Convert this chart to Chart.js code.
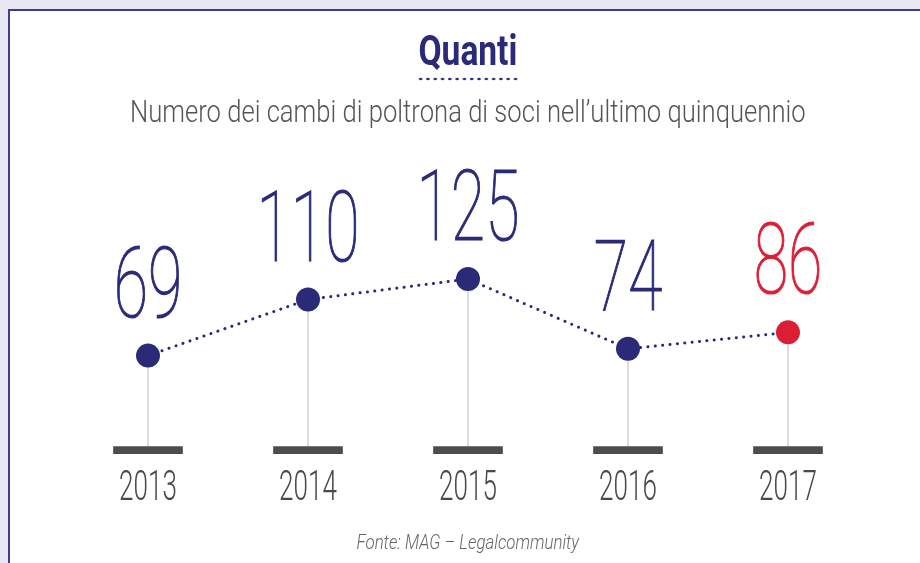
<!DOCTYPE html>
<html>
<head>
<meta charset="utf-8">
<script src="https://cdn.jsdelivr.net/npm/chart.js@4.4.0/dist/chart.umd.min.js"></script>
<style>
  html, body { margin: 0; padding: 0; }
  body { width: 920px; height: 563px; background: #e8e6f3; position: relative; overflow: hidden; font-family: Roboto, sans-serif; }
  #panel { position: absolute; left: 8px; top: 9px; width: 920px; height: 600px; background: #fff; border-left: 2px solid #3f3e8a; border-top: 2px solid #3f3e8a; box-sizing: border-box; }
  canvas { position: absolute; left: 0; top: 0; }
  .line { position: absolute; left: 0; width: 936px; text-align: center; white-space: nowrap; }
  .line span { display: inline-block; transform-origin: center; }
  #title { top: 29.5px; font-size: 42px; line-height: 42px; font-weight: 700; color: #2b2a78; }
  #dots { position: absolute; left: 417px; top: 77px; width: 102px; height: 4px;
    background-image: radial-gradient(circle, #2b2a78 1.4px, transparent 1.6px);
    background-size: 7.3px 4px; }
  #subtitle { top: 96px; font-size: 31px; line-height: 31px; font-weight: 300; color: #555; }
  #source { top: 532px; font-size: 21px; line-height: 21px; font-weight: 300; font-style: italic; color: #666; }
</style>
</head>
<body>
<div id="panel"></div>
<canvas id="chart" width="920" height="563"></canvas>
<div class="line" id="title"><span data-w="99">Quanti</span></div>
<div id="dots"></div>
<div class="line" id="subtitle"><span data-w="676">Numero dei cambi di poltrona di soci nell’ultimo quinquennio</span></div>
<div class="line" id="source"><span data-w="223">Fonte: MAG – Legalcommunity</span></div>
<script>
// data
const years = ['2013', '2014', '2015', '2016', '2017'];
const moves = [69, 110, 125, 74, 86];
const highlightYear = '2017';

const navy = '#2b2a78';
const red = '#dc1e35';
const pointColors = years.map(y => y === highlightYear ? red : navy);

// squeeze html texts to the condensed widths of the original
document.querySelectorAll('.line span').forEach(el => {
  const w = +el.dataset.w;
  el.style.transform = `scaleX(${w / el.offsetWidth})`;
});

// big value labels above points and year labels below the base marks
const labelsPlugin = {
  id: 'labels',
  afterDatasetsDraw(chart) {
    const ctx = chart.ctx;
    const meta = chart.getDatasetMeta(2);
    meta.data.forEach((pt, i) => {
      ctx.save();
      ctx.translate(pt.x, pt.y - 39);
      ctx.scale(0.64, 1);
      ctx.font = '100 98px Roboto';
      ctx.textAlign = 'center';
      ctx.textBaseline = 'alphabetic';
      ctx.fillStyle = pointColors[i];
      ctx.strokeStyle = pointColors[i];
      ctx.lineWidth = 1.2;
      ctx.fillText(String(moves[i]), 0, 0);
      ctx.strokeText(String(moves[i]), 0, 0);
      ctx.restore();
    });
    const xs = chart.scales.x;
    const y0 = chart.scales.y.getPixelForValue(0);
    years.forEach((label, i) => {
      ctx.save();
      ctx.translate(xs.getPixelForValue(i), y0 + 49.5);
      ctx.scale(0.62, 1);
      ctx.font = '300 42px Roboto';
      ctx.textAlign = 'center';
      ctx.textBaseline = 'alphabetic';
      ctx.fillStyle = '#4a4a4a';
      ctx.fillText(label, 0, 0);
      ctx.restore();
    });
  }
};

new Chart(document.getElementById('chart'), {
  type: 'line',
  data: {
    labels: years,
    datasets: [
      {
        // grey stems from base to point
        type: 'bar',
        data: moves,
        backgroundColor: '#dcdcdc',
        barThickness: 1.5,
        grouped: false,
        clip: false,
        order: 3
      },
      {
        // dark base mark under each year
        type: 'bar',
        data: years.map(() => [-2.6, 2.6]),
        backgroundColor: '#4d4d4d',
        barThickness: 69,
        grouped: false,
        clip: false,
        order: 2
      },
      {
        data: moves,
        borderColor: navy,
        borderWidth: 3,
        borderDash: [0.1, 7.3],
        borderCapStyle: 'round',
        tension: 0,
        pointRadius: 12,
        pointHoverRadius: 12,
        pointBorderWidth: 0,
        pointBackgroundColor: pointColors,
        clip: false,
        order: 1
      }
    ]
  },
  options: {
    responsive: false,
    animation: false,
    events: [],
    layout: { padding: { left: 148, right: 132, top: 154.5, bottom: 107.5 } },
    plugins: { legend: { display: false }, tooltip: { enabled: false } },
    scales: {
      x: { display: false, offset: false },
      y: { display: false, min: -4, max: 216 }
    }
  },
  plugins: [labelsPlugin]
});
</script>
</body>
</html>
